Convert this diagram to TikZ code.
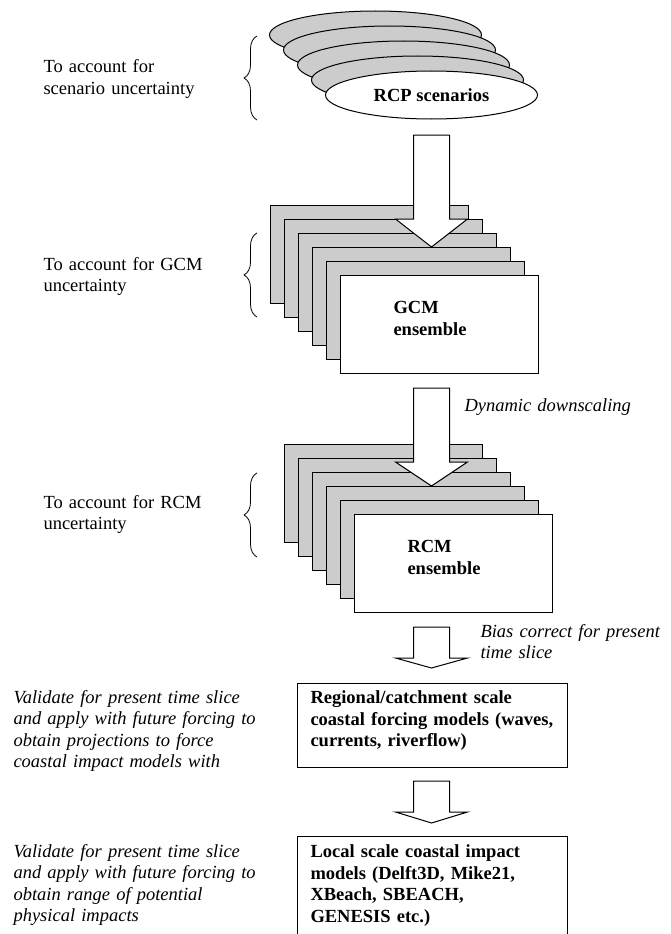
\documentclass[tikz,border=0pt]{standalone}
\usepackage{fontspec}
\setmainfont{Liberation Serif}
\usepackage{tikz}
\usetikzlibrary{positioning, shapes.geometric, decorations.pathreplacing}

\newcommand{\flowfont}{\fontsize{18.5pt}{21.5pt}\selectfont}

\begin{document}
\begin{tikzpicture}[
    x=1pt, y=-1pt,
    font=\flowfont,
    line width=1pt,
    scen/.style={ellipse, draw, fill=white, minimum width=212pt, minimum height=48pt, inner sep=0pt, font=\flowfont\bfseries},
    card/.style={rectangle, draw, fill=white, anchor=north west, text width=92pt, align=left, inner xsep=53pt, inner ysep=25.5pt, text height=12.5pt, text depth=34.5pt, font=\flowfont\bfseries},
    model/.style={rectangle, draw, fill=white, anchor=north west, text width=244pt, align=left, inner xsep=13pt, text height=12.5pt, font=\flowfont\bfseries},
    note/.style={anchor=base west, inner sep=0pt, text width=230pt, align=left},
    hint/.style={note, font=\flowfont\itshape},
    fatarrow/.style={draw, fill=white, line join=miter},
    bracket/.style={decorate, decoration={brace, amplitude=13pt}, line width=0.8pt}
]
\useasboundingbox (0,0) rectangle (671,934);
\clip (0,0) rectangle (671,934);

% RCP scenarios
\foreach \k in {4,3,2,1}
  \node[scen, fill=black!20] (rcp\k) at (431.5-14*\k, 95-15*\k) {};
\node[scen] (rcp) at (431.5,95) {RCP scenarios};

% GCM ensemble
\foreach \k in {5,4,3,2,1}
  \node[card, fill=black!20] (gcm\k) at (340-14*\k, 275-14*\k) {};
\node[card] (gcm) at (340,275) {GCM\\ensemble};

% RCM ensemble
\foreach \k in {5,4,3,2,1}
  \node[card, fill=black!20] (rcm\k) at (354-14*\k, 514-14*\k) {};
\node[card] (rcm) at (354,514) {RCM\\ensemble};

% Coastal models
\node[model, inner ysep=7.5pt, text depth=56.5pt] (regional) at (297,683) {Regional/catchment scale\\coastal forcing models (waves,\\currents, riverflow)};
\node[model, inner ysep=8.5pt, text depth=80pt] (local) at (297,836) {Local scale coastal impact\\models (Delft3D, Mike21,\\XBeach, SBEACH,\\GENESIS etc.)};

% Arrows
\coordinate (a1) at (431.5,135);
\coordinate (a2) at (431.5,388);
\coordinate (a3) at (431.5,627);
\coordinate (a4) at (431.5,781);

\draw[fatarrow] ([xshift=-18pt]a1) -- ++(36,0) -- ++(0,84) -- ++(18,0) -- ++(-36,28) -- ++(-36,-28) -- ++(18,0) -- cycle;
\draw[fatarrow] ([xshift=-18pt]a2) -- ++(36,0) -- ++(0,74) -- ++(18,0) -- ++(-36,24) -- ++(-36,-24) -- ++(18,0) -- cycle;
\draw[fatarrow] ([xshift=-18pt]a3) -- ++(36,0) -- ++(0,31) -- ++(18,0) -- ++(-36,10) -- ++(-36,-10) -- ++(18,0) -- cycle;
\draw[fatarrow] ([xshift=-18pt]a4) -- ++(36,0) -- ++(0,31) -- ++(18,0) -- ++(-36,11) -- ++(-36,-11) -- ++(18,0) -- cycle;

% Notes
\node[note] (scennote) at (43,73) {To account for\\scenario uncertainty};
\node[note] (gcmnote) at (43,270) {To account for GCM\\uncertainty};
\node[note] (rcmnote) at (43,508) {To account for RCM\\uncertainty};
\node[hint, text width=200pt] (dyn) at (464,411) {Dynamic downscaling};
\node[hint, text width=188pt] (bias) at (480,637) {Bias correct for present\\time slice};
\node[hint, text width=270pt] (val1) at (13,703) {Validate for present time slice\\and apply with future forcing to\\obtain projections to force\\coastal impact models with};
\node[hint, text width=270pt] (val2) at (13,857) {Validate for present time slice\\and apply with future forcing to\\obtain range of potential\\physical impacts};

% Braces
\draw[bracket] (257,120) -- (257,36);
\draw[bracket] (257,317) -- (257,233);
\draw[bracket] (257,557) -- (257,473);

\end{tikzpicture}
\end{document}
